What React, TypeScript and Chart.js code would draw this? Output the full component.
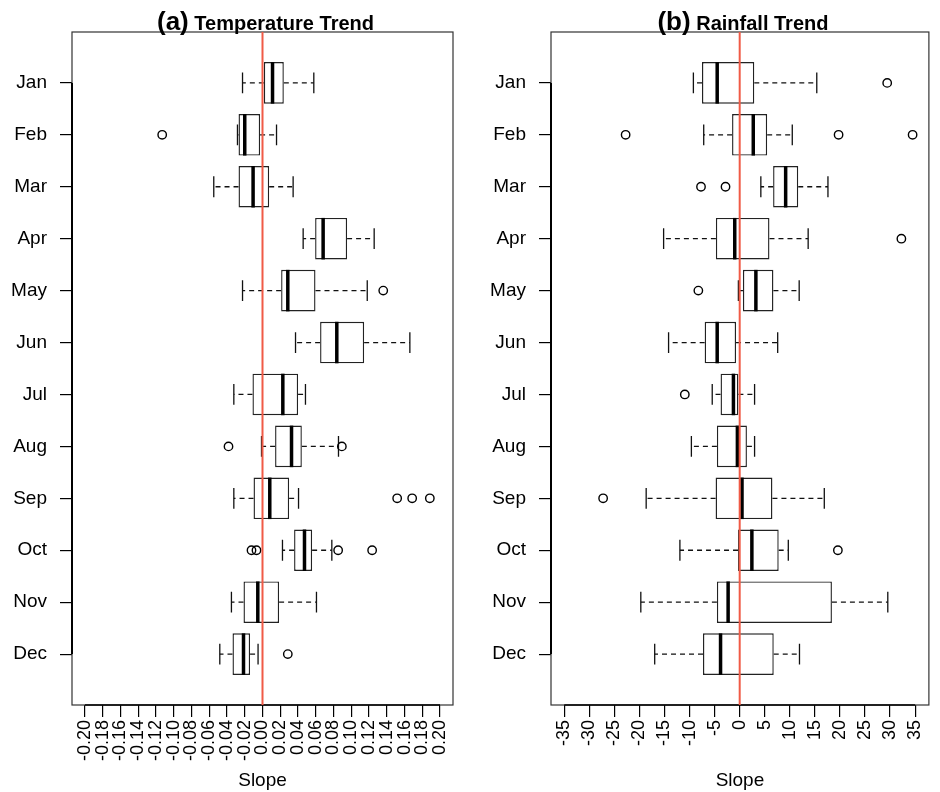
import React, { useEffect, useRef } from "react";
import { Chart, registerables } from "chart.js";

Chart.register(...registerables);
Chart.defaults.font.family = "'Liberation Sans', Arial, Helvetica, sans-serif";
Chart.defaults.color = "#000";

// ---------- shared ----------
const months = ["Jan", "Feb", "Mar", "Apr", "May", "Jun", "Jul", "Aug", "Sep", "Oct", "Nov", "Dec"];
const monthPositions = [1, 2, 3, 4, 5, 6, 7, 8, 9, 10, 11, 12];

// ---------- (a) Temperature trend ----------
const tempTicks = [-0.2, -0.18, -0.16, -0.14, -0.12, -0.1, -0.08, -0.06, -0.04, -0.02, 0, 0.02, 0.04, 0.06, 0.08, 0.1, 0.12, 0.14, 0.16, 0.18, 0.2];
const tempWhiskerLow = [-0.0225, -0.0282, -0.0549, 0.0458, -0.0225, 0.0372, -0.0323, -0.0011, -0.0323, 0.0225, -0.035, -0.0481];
const tempQ1 = [0.0015, -0.027, -0.027, 0.0593, 0.021, 0.0649, -0.0113, 0.0142, -0.0101, 0.0356, -0.0214, -0.0338];
const tempMedian = [0.0113, -0.02, -0.0106, 0.0683, 0.0285, 0.0837, 0.0229, 0.0327, 0.0082, 0.0473, -0.0053, -0.0214];
const tempQ3 = [0.024, -0.0027, 0.0075, 0.0953, 0.0597, 0.1145, 0.0401, 0.0443, 0.03, 0.0559, 0.0187, -0.014];
const tempWhiskerHigh = [0.0578, 0.0158, 0.0345, 0.1258, 0.118, 0.166, 0.0484, 0.0856, 0.0406, 0.0781, 0.0608, -0.005];
const tempOutlierMonths = [2, 5, 8, 8, 9, 9, 9, 10, 10, 10, 10, 12];
const tempOutlierValues = [-0.113, 0.136, -0.0383, 0.0894, 0.1517, 0.1686, 0.1885, -0.0124, -0.0068, 0.0852, 0.1235, 0.0285];

// ---------- (b) Rainfall trend ----------
const rainTicks = [-35, -30, -25, -20, -15, -10, -5, 0, 5, 10, 15, 20, 25, 30, 35];
const rainWhiskerLow = [-9.24, -7.18, 4.22, -15.18, -0.26, -14.19, -5.48, -9.64, -18.66, -11.93, -19.73, -16.96];
const rainQ1 = [-7.52, -1.52, 6.67, -4.75, 0.65, -6.99, -3.82, -4.55, -4.81, -0.33, -4.55, -7.32];
const rainMedian = [-4.49, 2.71, 9.17, -0.99, 3.23, -4.49, -1.25, -0.46, 0.46, 2.43, -2.31, -3.82];
const rainQ3 = [2.91, 5.48, 11.68, 5.94, 6.73, -0.73, -0.26, 1.44, 6.53, 7.78, 18.4, 6.79];
const rainWhiskerHigh = [15.38, 10.49, 17.61, 13.66, 11.87, 7.58, 2.97, 2.97, 16.88, 9.7, 29.55, 11.93];
const rainOutlierMonths = [1, 2, 2, 2, 3, 3, 4, 5, 7, 9, 10];
const rainOutlierValues = [29.43, -22.76, 19.73, 34.5, -7.72, -2.83, 32.26, -8.25, -10.95, -27.25, 19.59];

type PanelProps = {
  left: number;
  tag: string;
  title: string;
  xMin: number;
  xMax: number;
  ticks: number[];
  fmt: (v: number) => string;
  wlo: number[];
  q1: number[];
  med: number[];
  q3: number[];
  whi: number[];
  outM: number[];
  outV: number[];
  yAxisWidth: number;
  rightPad: number;
};

function Panel(p: PanelProps) {
  const ref = useRef<HTMLCanvasElement | null>(null);
  useEffect(() => {
    if (!ref.current) return;
    const extras = {
      id: "boxExtras",
      beforeDatasetsDraw(chart: any) {
        const { ctx, scales } = chart;
        const x = scales.x, y = scales.y;
        ctx.save();
        ctx.strokeStyle = "#111";
        ctx.lineWidth = 1.3;
        for (let i = 0; i < monthPositions.length; i++) {
          const pos = monthPositions[i];
          const yc = y.getPixelForValue(pos);
          const cap = Math.abs(y.getPixelForValue(pos + 0.2) - yc);
          ctx.setLineDash([5, 4]);
          ctx.beginPath();
          ctx.moveTo(x.getPixelForValue(p.q1[i]), yc);
          ctx.lineTo(x.getPixelForValue(p.wlo[i]), yc);
          ctx.moveTo(x.getPixelForValue(p.q3[i]), yc);
          ctx.lineTo(x.getPixelForValue(p.whi[i]), yc);
          ctx.stroke();
          ctx.setLineDash([]);
          ctx.beginPath();
          const xl = x.getPixelForValue(p.wlo[i]);
          const xh = x.getPixelForValue(p.whi[i]);
          ctx.moveTo(xl, yc - cap);
          ctx.lineTo(xl, yc + cap);
          ctx.moveTo(xh, yc - cap);
          ctx.lineTo(xh, yc + cap);
          ctx.stroke();
        }
        ctx.restore();
      },
      afterDatasetsDraw(chart: any) {
        const { ctx, scales, chartArea } = chart;
        const x = scales.x, y = scales.y;
        ctx.save();
        // medians
        ctx.strokeStyle = "#000";
        ctx.lineWidth = 3.5;
        for (let i = 0; i < monthPositions.length; i++) {
          const pos = monthPositions[i];
          const xm = x.getPixelForValue(p.med[i]);
          ctx.beginPath();
          ctx.moveTo(xm, y.getPixelForValue(pos - 0.4));
          ctx.lineTo(xm, y.getPixelForValue(pos + 0.4));
          ctx.stroke();
        }
        // frame
        ctx.lineWidth = 1.2;
        ctx.strokeStyle = "#333";
        ctx.strokeRect(chartArea.left, chartArea.top, chartArea.right - chartArea.left, chartArea.bottom - chartArea.top);
        // y axis line (first to last month)
        ctx.lineWidth = 2;
        ctx.strokeStyle = "#000";
        ctx.beginPath();
        ctx.moveTo(chartArea.left, y.getPixelForValue(monthPositions[0]));
        ctx.lineTo(chartArea.left, y.getPixelForValue(monthPositions[monthPositions.length - 1]));
        ctx.stroke();
        // x axis line (first to last tick)
        ctx.lineWidth = 1.3;
        ctx.beginPath();
        ctx.moveTo(x.getPixelForValue(p.ticks[0]), chartArea.bottom);
        ctx.lineTo(x.getPixelForValue(p.ticks[p.ticks.length - 1]), chartArea.bottom);
        ctx.stroke();
        // zero reference line
        const x0 = x.getPixelForValue(0);
        ctx.strokeStyle = "#F05A46";
        ctx.lineWidth = 2;
        ctx.beginPath();
        ctx.moveTo(x0, chartArea.top);
        ctx.lineTo(x0, chartArea.bottom);
        ctx.stroke();
        // title
        const fam = "'Liberation Sans', Arial, Helvetica, sans-serif";
        const bigFont = "bold 26px " + fam;
        const smallFont = "bold 20px " + fam;
        ctx.font = bigFont;
        const w1 = ctx.measureText(p.tag).width;
        ctx.font = smallFont;
        const w2 = ctx.measureText(" " + p.title).width;
        const cx = (chartArea.left + chartArea.right) / 2 + 3;
        const startX = cx - (w1 + w2) / 2;
        ctx.fillStyle = "#000";
        ctx.textBaseline = "alphabetic";
        ctx.textAlign = "left";
        ctx.font = bigFont;
        ctx.fillText(p.tag, startX, 30);
        ctx.font = smallFont;
        ctx.fillText(" " + p.title, startX + w1, 30);
        ctx.restore();
      },
    };

    const chart = new Chart(ref.current, {
      type: "bar",
      data: {
        datasets: [
          {
            type: "bar",
            indexAxis: "y",
            data: monthPositions.map((m, i) => ({ y: m, x: [p.q1[i], p.q3[i]] })) as any,
            backgroundColor: "#fff",
            borderColor: "#222",
            borderWidth: 1.4,
            borderSkipped: false,
            barPercentage: 0.8,
            categoryPercentage: 1,
            grouped: false,
          } as any,
          {
            type: "scatter",
            data: p.outM.map((m, i) => ({ x: p.outV[i], y: m })),
            pointRadius: 4.2,
            pointStyle: "circle",
            backgroundColor: "rgba(0,0,0,0)",
            borderColor: "#000",
            borderWidth: 1.4,
            showLine: false,
          } as any,
        ],
      },
      options: {
        animation: false,
        responsive: false,
        maintainAspectRatio: false,
        devicePixelRatio: 1,
        layout: { padding: { top: 32, right: p.rightPad, left: 0, bottom: 0 } },
        plugins: { legend: { display: false }, tooltip: { enabled: false }, title: { display: false } },
        scales: {
          x: {
            type: "linear",
            position: "bottom",
            offset: false,
            min: p.xMin,
            max: p.xMax,
            afterFit: (s: any) => {
              s.height = 87;
            },
            afterBuildTicks: (s: any) => {
              s.ticks = p.ticks.map((v) => ({ value: v }));
            },
            ticks: {
              autoSkip: false,
              minRotation: 90,
              maxRotation: 90,
              padding: 3,
              color: "#000",
              font: { size: 18 },
              callback: (v: any) => p.fmt(Number(v)),
            },
            grid: { offset: false, drawOnChartArea: false, drawTicks: true, tickLength: 12, color: "#000", tickColor: "#000", lineWidth: 1.2 },
            border: { display: false },
            title: { display: true, text: "Slope", color: "#000", font: { size: 19 }, padding: { top: 0, bottom: 0 } },
          },
          y: {
            type: "linear",
            reverse: true,
            offset: false,
            min: 0.02,
            max: 12.98,
            afterFit: (s: any) => {
              s.width = p.yAxisWidth;
            },
            afterBuildTicks: (s: any) => {
              s.ticks = monthPositions.map((v) => ({ value: v }));
            },
            ticks: {
              autoSkip: false,
              padding: 13,
              color: "#000",
              font: { size: 19 },
              callback: (v: any) => months[Number(v) - 1],
            },
            grid: { offset: false, drawOnChartArea: false, drawTicks: true, tickLength: 12, color: "#000", tickColor: "#000", lineWidth: 1.2 },
            border: { display: false },
          },
        },
      } as any,
      plugins: [extras as any],
    });
    return () => chart.destroy();
  }, []);
  return (
    <canvas
      ref={ref}
      width={470}
      height={792}
      style={{ position: "absolute", left: p.left, top: 0, width: 470, height: 792 }}
    />
  );
}

export default function App() {
  return (
    <div style={{ position: "absolute", left: 0, top: 0, width: 940, height: 792, background: "#fff", overflow: "hidden" }}>
      <Panel
        left={0}
        tag="(a)"
        title="Temperature Trend"
        xMin={-0.2146}
        xMax={0.2146}
        ticks={tempTicks}
        fmt={(v) => v.toFixed(2)}
        wlo={tempWhiskerLow}
        q1={tempQ1}
        med={tempMedian}
        q3={tempQ3}
        whi={tempWhiskerHigh}
        outM={tempOutlierMonths}
        outV={tempOutlierValues}
        yAxisWidth={72}
        rightPad={17}
      />
      <Panel
        left={470}
        tag="(b)"
        title="Rainfall Trend"
        xMin={-37.65}
        xMax={37.75}
        ticks={rainTicks}
        fmt={(v) => String(v)}
        wlo={rainWhiskerLow}
        q1={rainQ1}
        med={rainMedian}
        q3={rainQ3}
        whi={rainWhiskerHigh}
        outM={rainOutlierMonths}
        outV={rainOutlierValues}
        yAxisWidth={81}
        rightPad={8}
      />
    </div>
  );
}
